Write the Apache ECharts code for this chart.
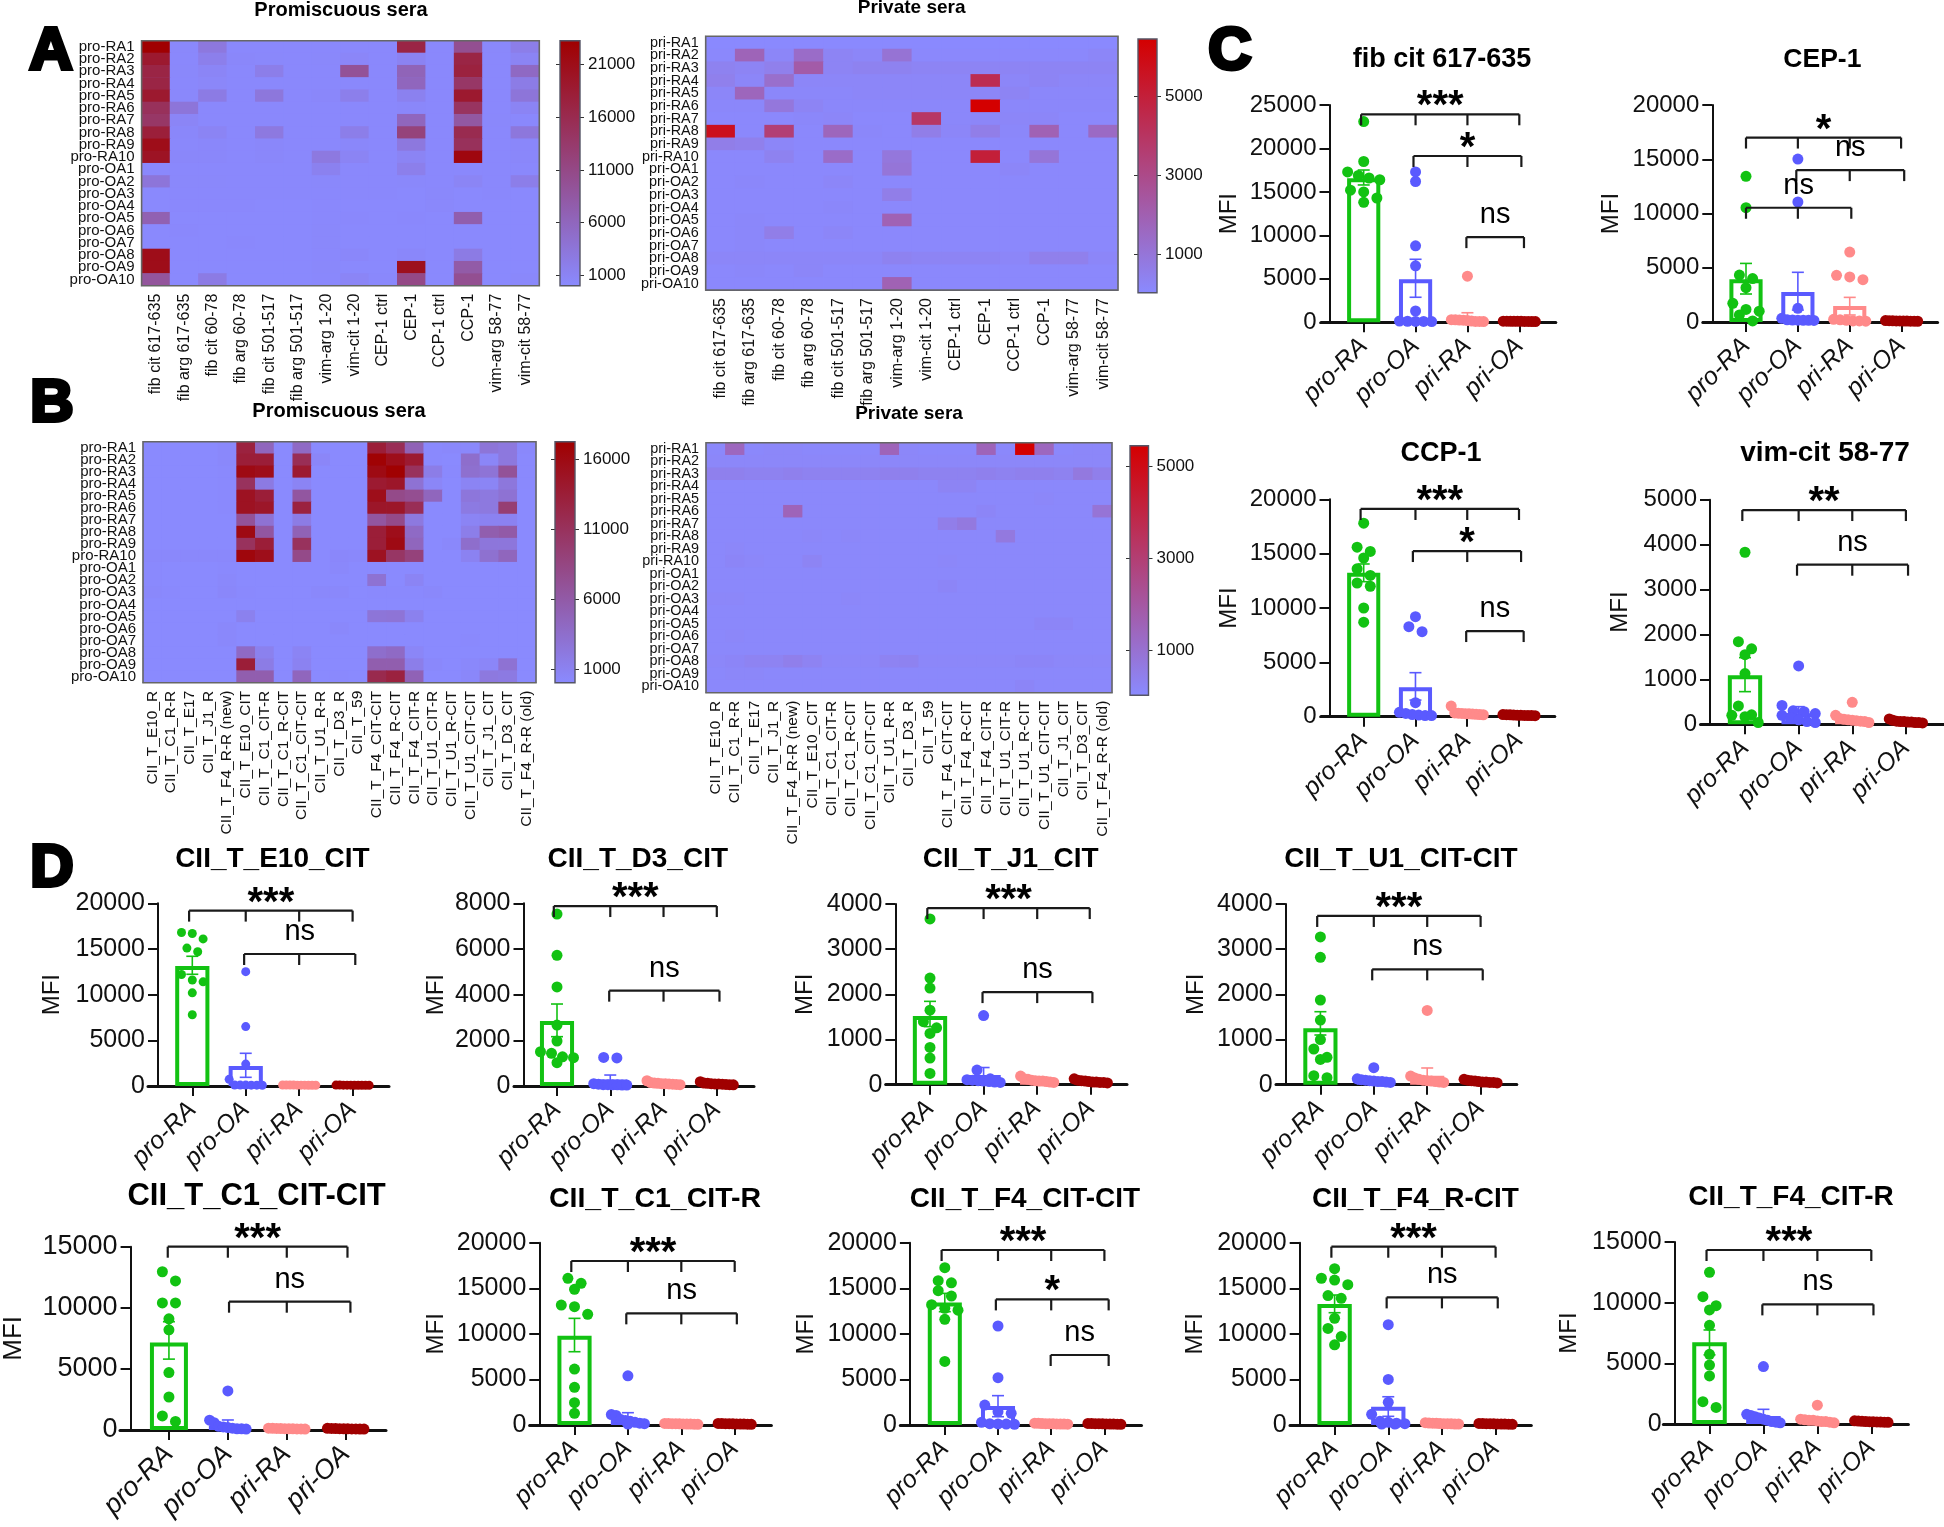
<!DOCTYPE html>
<html><head><meta charset="utf-8">
<style>html,body{margin:0;padding:0;background:#fff}#c{width:1944px;height:1527px}</style>
<script src="https://cdn.jsdelivr.net/npm/echarts@6/dist/echarts.min.js"></script>
</head><body><div id="c"></div>
<script>
// ---------- categories ----------
const proRows = ['pro-RA1','pro-RA2','pro-RA3','pro-RA4','pro-RA5','pro-RA6','pro-RA7','pro-RA8','pro-RA9','pro-RA10','pro-OA1','pro-OA2','pro-OA3','pro-OA4','pro-OA5','pro-OA6','pro-OA7','pro-OA8','pro-OA9','pro-OA10'];
const priRows = ['pri-RA1','pri-RA2','pri-RA3','pri-RA4','pri-RA5','pri-RA6','pri-RA7','pri-RA8','pri-RA9','pri-RA10','pri-OA1','pri-OA2','pri-OA3','pri-OA4','pri-OA5','pri-OA6','pri-OA7','pri-OA8','pri-OA9','pri-OA10'];
const peptideCols = ['fib cit 617-635','fib arg 617-635','fib cit 60-78','fib arg 60-78','fib cit 501-517','fib arg 501-517','vim-arg 1-20','vim-cit 1-20','CEP-1 ctrl','CEP-1','CCP-1 ctrl','CCP-1','vim-arg 58-77','vim-cit 58-77'];
const ciiCols = ['CII_T_E10_R','CII_T_C1_R-R','CII_T_E17','CII_T_J1_R','CII_T_F4_R-R (new)','CII_T_E10_CIT','CII_T_C1_CIT-R','CII_T_C1_R-CIT','CII_T_C1_CIT-CIT','CII_T_U1_R-R','CII_T_D3_R','CII_T_59','CII_T_F4_CIT-CIT','CII_T_F4_R-CIT','CII_T_F4_CIT-R','CII_T_U1_CIT-R','CII_T_U1_R-CIT','CII_T_U1_CIT-CIT','CII_T_J1_CIT','CII_T_D3_CIT','CII_T_F4_R-R (old)'];
const groups = ['pro-RA','pro-OA','pri-RA','pri-OA'];

// ---------- heatmap values ----------
const heatA1 = [
[23200,400,3000,300,300,300,300,300,300,17000,300,10000,400,2000],
[19000,300,1800,500,400,300,400,700,300,1200,300,17000,300,1000],
[17000,400,800,300,2000,300,300,9500,300,6500,300,17500,300,5500],
[17000,300,600,300,300,300,300,300,300,6000,300,14000,300,2300],
[19000,400,2500,300,3200,300,500,1800,300,1500,300,19000,300,3500],
[15000,3500,300,300,300,300,300,300,300,500,300,14500,300,1000],
[14000,800,300,300,300,300,300,300,300,6000,300,8500,400,300],
[18000,500,1000,300,2800,300,300,2000,300,12000,300,16000,300,3200],
[21000,400,500,300,500,300,300,500,300,3000,300,15000,300,500],
[20000,500,500,300,500,300,2800,1000,300,1000,300,22000,300,500],
[300,300,300,300,300,300,1500,300,300,1800,300,300,300,300],
[3500,400,400,300,300,300,400,300,300,400,300,900,300,2000],
[200,300,300,300,300,300,300,300,300,200,400,200,300,200],
[200,300,300,300,200,200,300,200,200,200,400,200,200,200],
[7000,200,200,200,200,200,300,300,200,300,200,7500,200,200],
[200,300,200,200,200,200,400,200,200,200,200,200,200,200],
[200,200,200,300,200,200,400,200,200,200,200,200,200,200],
[21000,200,200,200,200,200,300,500,200,500,200,2500,200,200],
[21000,200,200,200,200,200,400,200,200,20500,200,8000,200,200],
[9000,200,2500,200,200,200,300,800,300,11000,200,10000,200,400]
];
const heatA2 = [
[50,50,50,50,50,50,50,50,50,50,50,50,50,50],
[100,1800,200,1400,300,200,1100,100,100,100,100,100,100,200],
[400,300,500,2200,300,400,400,300,300,300,300,300,300,300],
[500,200,1300,200,200,200,200,200,200,4400,200,300,200,200],
[200,1700,150,150,150,200,200,200,200,200,300,150,150,150],
[150,150,900,300,150,150,150,150,150,6440,150,150,150,150],
[100,100,100,150,200,100,100,3900,150,200,200,200,100,100],
[5700,100,3500,100,1700,150,100,600,200,600,150,1900,100,1500],
[600,500,200,100,100,100,100,100,100,100,100,100,100,100],
[100,100,400,100,1400,100,900,100,100,5000,100,1000,100,100],
[100,100,100,100,100,100,1000,100,100,100,200,100,100,100],
[100,150,100,100,200,100,100,100,100,100,100,100,100,100],
[100,100,100,100,100,100,600,100,100,100,100,100,100,100],
[100,100,100,100,150,100,100,100,100,100,100,100,100,100],
[100,150,100,100,100,100,1900,100,100,100,100,100,100,100],
[100,150,600,100,200,100,100,100,100,100,100,100,100,100],
[100,150,100,100,100,100,100,100,100,100,100,100,100,100],
[200,200,200,200,200,200,400,300,300,300,200,500,500,200],
[100,150,100,200,100,100,100,100,100,100,100,100,100,100],
[100,100,100,100,100,100,1900,100,100,100,100,100,100,100]
];
const heatB1 = [
[100,100,100,100,300,13000,4500,100,4000,100,100,100,13500,11500,5000,200,300,300,2700,2300,300],
[100,100,100,100,300,13500,13500,100,11500,500,100,100,17000,15500,14000,200,100,3500,600,2300,200],
[100,100,100,100,200,16000,15500,100,14000,100,100,100,16000,17200,11000,1700,200,3300,2800,7000,200],
[100,100,100,100,200,11000,2000,100,800,100,100,100,14000,14500,3000,600,100,800,700,2400,200],
[100,100,100,100,200,15000,13500,100,6500,100,100,100,15500,8000,7500,4500,100,2500,2200,3000,100],
[100,100,100,100,200,15000,14500,100,13000,100,100,100,14500,14500,11500,100,100,2000,2200,9500,100],
[100,100,100,100,100,7000,3000,100,1800,100,100,100,6500,8000,2200,100,100,800,1000,1000,100],
[100,100,100,100,100,16000,6500,100,5000,100,100,100,13500,15500,4000,100,100,1500,5500,6000,100],
[100,100,100,100,100,11000,13500,100,11000,100,100,100,13500,16000,4500,100,300,3500,2500,2500,100],
[300,300,300,300,300,16500,15500,100,8000,100,400,300,15000,10500,9000,100,100,1000,3200,4500,100],
[200,100,100,100,200,100,100,100,100,100,300,100,100,100,100,100,100,100,100,100,100],
[200,100,100,100,300,100,100,100,100,100,100,100,3000,100,800,100,100,100,100,100,100],
[300,200,100,100,400,200,100,100,100,300,300,100,200,200,200,300,100,100,100,100,100],
[100,100,100,100,100,100,100,100,100,100,100,100,100,100,100,100,100,100,100,100,100],
[100,100,100,100,100,1200,100,100,100,100,100,100,2700,2800,1200,100,100,100,100,100,100],
[100,100,100,100,300,100,100,100,100,100,300,100,100,100,100,100,100,100,100,100,100],
[100,100,100,100,300,100,100,100,100,100,100,100,100,100,100,100,100,200,100,100,100],
[100,100,100,100,100,4000,1200,100,800,100,100,100,3500,4000,600,100,100,100,100,100,100],
[100,100,100,100,100,13500,1800,100,1000,100,100,100,5500,5500,1500,300,100,300,500,3000,100],
[100,100,100,100,100,5500,5500,100,4500,100,200,100,12000,13000,5000,100,100,400,2200,2000,100]
];
const heatB2 = [
[100,1400,100,150,150,100,100,100,100,1500,150,100,100,100,1500,100,5440,1400,100,150,150],
[150,150,150,150,150,150,150,150,150,150,150,150,150,150,150,150,150,150,150,150,150],
[400,400,350,350,400,350,350,350,350,400,400,350,350,350,400,350,400,400,350,700,450],
[100,100,100,100,100,100,100,100,100,100,100,100,250,250,100,100,100,100,100,100,100],
[100,100,100,100,100,100,100,100,100,100,100,100,100,100,100,100,100,150,100,100,100],
[100,100,100,100,1500,100,100,100,100,100,100,100,100,100,200,100,100,100,100,100,900],
[100,100,100,100,100,100,100,100,100,100,100,100,500,700,100,100,100,100,100,100,100],
[100,100,100,100,100,150,100,150,100,100,100,100,100,100,100,700,100,100,100,100,100],
[100,150,100,100,100,100,100,100,100,100,100,100,100,100,100,100,100,100,100,100,100],
[100,200,150,100,100,250,100,100,100,100,100,100,150,100,100,100,100,100,100,100,100],
[100,100,100,100,100,100,100,100,100,100,100,100,100,100,100,100,100,100,100,100,100],
[100,100,100,100,100,100,100,100,100,100,100,100,200,100,100,100,100,100,100,100,100],
[150,150,100,100,100,100,100,150,100,100,100,100,100,100,100,100,100,100,100,100,100],
[100,100,100,100,100,100,100,100,100,100,100,100,100,100,100,100,100,100,100,100,100],
[100,100,100,100,100,100,100,100,100,100,100,100,100,100,100,100,100,200,200,100,100],
[100,150,100,100,100,100,100,100,100,100,100,100,100,100,100,100,100,100,100,100,100],
[100,100,100,100,100,100,100,100,100,100,100,100,100,100,100,100,100,100,100,100,100],
[150,200,300,300,450,300,150,150,150,300,350,150,150,150,150,150,200,200,150,150,150],
[100,150,150,100,100,100,100,100,100,100,100,100,100,100,100,100,100,100,100,100,100],
[100,100,100,100,100,100,100,100,100,100,100,100,100,100,100,100,200,100,100,100,100]
];

// ---------- bar + dot values (one list per group: pro-RA, pro-OA, pri-RA, pri-OA) ----------
const fibDots = [[23100,18500,17300,16900,16600,16400,15200,15000,14300,13800],[17300,16200,8800,6500,1300,150,120,100,100,80],[5300,300,280,260,250,200,150,100,100,80],[130,130,120,120,110,110,100,100,90,90]];
const fibBars = [16560,4950,460,150]; const fibErr = [[17520,15800],[7250,2880],[1100,100],null];
const cepDots = [[13430,10540,4330,4000,3160,1720,1160,1000,650,100],[15020,11060,1260,340,200,180,170,160,150,140],[6450,4300,4150,3900,250,200,150,100,100,80],[130,120,110,100,100,90,90,80,80,70]];
const cepBars = [3930,2765,1475,120]; const cepErr = [[5400,2580],[4580,1100],[2270,645],null];
const ccpDots = [[17800,15600,15200,14600,13600,13000,12300,12000,10000,8700],[9200,8280,7820,1290,400,300,200,150,100,100],[980,350,320,300,280,260,240,220,200,180],[200,190,170,150,140,130,120,110,100,90]];
const ccpBars = [13250,2700,400,150]; const ccpErr = [[14050,12420],[4050,1530],null,null];
const vimDots = [[3830,1840,1680,1550,1130,410,210,200,170,40],[1300,420,300,280,240,200,150,100,60,40],[490,200,130,110,100,90,80,70,60,40],[120,90,70,60,60,50,50,40,40,30]];
const vimBars = [1090,245,100,60]; const vimErr = [[1484,727],[393,100],null,null];
const e10Dots = [[16800,16700,16100,15100,14700,12200,11600,11400,10200,7800],[12520,6500,2400,730,110,100,100,90,90,80],[110,100,100,100,90,90,90,80,80,80],[100,100,90,90,90,80,80,80,70,70]];
const e10Bars = [13140,2190,100,80]; const e10Err = [[14200,12230],[3580,950],null,null];
const d3Dots = [[7530,5720,4340,2670,1970,1500,1430,1280,1240,1020],[1250,1230,100,80,60,60,50,50,40,40],[230,150,130,120,100,100,90,80,70,60],[190,130,120,100,90,90,80,70,60,50]];
const d3Bars = [2850,290,100,80]; const d3Err = [[3590,2160],[480,100],null,null];
const j1Dots = [[3670,2360,2140,1650,1395,1260,1136,826,590,250],[1530,325,130,110,100,90,80,70,60,50],[190,130,120,100,90,80,80,70,60,50],[130,100,90,80,70,60,60,50,50,40]];
const j1Bars = [1520,214,125,90]; const j1Err = [[1845,1285],[380,50],null,null];
const u1Dots = [[3270,2820,1875,1430,1000,790,605,560,200,155],[376,130,110,100,90,80,70,70,60,50],[1645,190,150,120,100,90,80,70,60,50],[120,100,90,80,70,60,60,50,50,40]];
const u1Bars = [1247,100,200,90]; const u1Err = [[1616,1100],null,[370,40],null];
const c1ccDots = [[12950,12200,10400,10400,9100,8200,4700,2700,1150,700],[3200,800,600,300,250,200,150,100,100,80],[150,140,130,120,110,100,100,90,90,80],[140,130,120,110,100,100,90,90,80,80]];
const c1ccBars = [7170,330,130,100]; const c1ccErr = [[8860,5800],[820,50],null,null];
const c1crDots = [[16090,15540,14880,13160,12980,12140,6140,4130,2450,1280],[5400,1150,1050,600,500,400,300,200,150,100],[170,160,150,140,130,120,110,100,90,80],[170,160,150,140,130,120,110,100,90,80]];
const c1crBars = [9800,695,150,150]; const c1crErr = [[11700,8040],[1350,50],null,null];
const f4ccDots = [[17260,15830,15600,14740,14150,13200,12800,12600,11590,6980],[10860,5190,2190,1460,1280,300,150,120,100,80],[200,180,160,150,140,130,120,110,100,90],[170,160,150,140,130,120,110,100,90,80]];
const f4ccBars = [13450,2085,120,100]; const f4ccErr = [[14440,12430],[3220,910],null,null];
const f4rcDots = [[17150,16100,15900,15400,14200,13900,11700,10600,9700,8800],[11000,5000,2490,1170,400,300,200,150,100,100],[260,220,200,180,160,150,140,130,110,100],[170,160,150,140,130,120,110,100,90,80]];
const f4rcBars = [13270,2010,150,120]; const f4rcErr = [[14260,12320],[3100,950],null,null];
const f4crDots = [[12500,10490,9750,9400,8130,5740,4860,3960,1840,1370],[4730,800,700,600,500,400,300,200,150,100],[1550,400,350,300,300,250,200,200,150,100],[260,240,220,200,190,180,170,160,150,140]];
const f4crBars = [6730,660,470,190]; const f4crErr = [[7750,5700],[1210,110],null,null];

// ---------- significance brackets: from, to, level (axis units), text ----------
const fibBrackets = [[0.95,4,23930,'***'],[1.96,4.04,19130,'*'],[2.98,4.09,9800,'ns']];
const cepBrackets = [[1,3.99,17000,'*'],[1.97,4.05,14000,'ns'],[1,3.03,10530,'ns']];
const ccpBrackets = [[0.94,4,19110,'***'],[1.95,4.04,15240,'*'],[2.98,4.09,7880,'ns']];
const vimBrackets = [[0.95,4,4770,'**'],[1.97,4.04,3553,'ns']];
const e10Brackets = [[0.94,4,19200,'***'],[1.97,4.05,14450,'ns']];
const d3Brackets = [[0.94,4,7880,'***'],[1.98,4.05,4175,'ns']];
const j1Brackets = [[0.95,3.98,3910,'***'],[1.98,4.03,2050,'ns']];
const u1Brackets = [[0.94,4,3735,'***'],[1.97,4.04,2553,'ns']];
const c1ccBrackets = [[0.98,4.03,15000,'***'],[2.02,4.08,10500,'ns']];
const c1crBrackets = [[0.94,4,17990,'***'],[1.97,4.04,12250,'ns']];
const f4ccBrackets = [[0.94,4,19200,'***'],[1.96,4.08,13780,'*'],[2.99,4.08,7680,'ns']];
const f4rcBrackets = [[0.94,4,19560,'***'],[1.97,4.04,14000,'ns']];
const f4crBrackets = [[0.945,4,14340,'***'],[1.98,4.04,9860,'ns']];

// ---------- layout + styles ----------
const FONT = '"Liberation Sans", Arial, sans-serif';
const groupColors = ['#12c212','#5a5aff','#ff8a8a','#a00000'];
const LOW = '#8a8aff';
const opt = {animation:false,backgroundColor:'#fff',title:[],grid:[],xAxis:[],yAxis:[],series:[],visualMap:[],graphic:[]};

function text(t,x,y,size,extra){
  opt.title.push({text:t,left:x,top:y,textAlign:'center',textVerticalAlign:'middle',padding:0,
    textStyle:Object.assign({fontFamily:FONT,fontWeight:'bold',fontSize:size,color:'#000'},extra||{})});
}
[['A',51,52],['B',52,404],['C',1230,52],['D',52,869]].forEach(a=>text(a[0],a[1],a[2],60,{textBorderColor:'#000',textBorderWidth:4}));

function addAxesGrid(box,bg){
  const g=opt.grid.length;
  const o={left:box.x0,top:box.y0,width:box.x1-box.x0,height:box.y1-box.y0,containLabel:false};
  if(bg){o.show=true;o.backgroundColor=bg;o.borderWidth=0;}
  opt.grid.push(o);
  return g;
}

function heat(h){
  const g=addAxesGrid(h,LOW);
  const xi=opt.xAxis.length, yi=opt.yAxis.length;
  opt.xAxis.push({gridIndex:g,type:'category',data:h.cols,
    axisTick:{alignWithLabel:true,length:5,lineStyle:{color:'#555'}},axisLine:{lineStyle:{color:'#555'}},splitLine:{show:false},splitArea:{show:false},
    axisLabel:{interval:0,rotate:90,fontFamily:FONT,fontSize:h.colFont,color:'#111',margin:8}});
  opt.yAxis.push({gridIndex:g,type:'category',inverse:true,data:h.rows,
    axisTick:{alignWithLabel:true,length:5,lineStyle:{color:'#555'}},axisLine:{lineStyle:{color:'#555'}},splitLine:{show:false},splitArea:{show:false},
    axisLabel:{interval:0,fontFamily:FONT,fontSize:h.rowFont,color:'#111',margin:7}});
  const data=[];
  h.matrix.forEach((row,r)=>row.forEach((v,c)=>data.push([c,r,v])));
  const si=opt.series.length;
  opt.series.push({type:'heatmap',xAxisIndex:xi,yAxisIndex:yi,data,progressive:0,silent:true});
  opt.visualMap.push({show:false,seriesIndex:si,dimension:2,min:h.cb.min,max:h.cb.max,inRange:{color:[LOW,h.high]}});
  opt.graphic.push({type:'rect',z:50,silent:true,shape:{x:h.x0,y:h.y0,width:h.x1-h.x0,height:h.y1-h.y0},style:{fill:null,stroke:'#666',lineWidth:1.6}});
  text(h.title,h.titleX,h.titleY,h.titleSize);
  // colour bar
  const cb=h.cb, cg=addAxesGrid(cb);
  const cx=opt.xAxis.length, cy=opt.yAxis.length;
  opt.xAxis.push({gridIndex:cg,type:'category',data:['scale'],show:false});
  const tickCol='#333';
  opt.yAxis.push({gridIndex:cg,type:'value',position:'right',min:cb.min,max:cb.max,splitLine:{show:false},
    axisLine:{show:false},axisTick:{show:true,length:4,lineStyle:{color:tickCol},customValues:cb.ticks},
    axisLabel:{show:true,customValues:cb.ticks,fontFamily:FONT,fontSize:17,color:'#111',margin:8,formatter:v=>String(v)}});
  opt.yAxis.push({gridIndex:cg,type:'value',position:'left',min:cb.min,max:cb.max,splitLine:{show:false},
    axisLine:{show:false},axisTick:{show:true,length:4,lineStyle:{color:tickCol},customValues:cb.ticks},axisLabel:{show:false}});
  opt.series.push({type:'bar',xAxisIndex:cx,yAxisIndex:cy,barWidth:'100%',silent:true,data:[cb.max],
    itemStyle:{color:new echarts.graphic.LinearGradient(0,0,0,1,[{offset:0,color:h.high},{offset:1,color:LOW}])}});
  opt.graphic.push({type:'rect',z:50,silent:true,shape:{x:cb.x0,y:cb.y0,width:cb.x1-cb.x0,height:cb.y1-cb.y0},style:{fill:null,stroke:'#556',lineWidth:1.4}});
}

function swarm(values,pxPerUnit,step,dot){
  const sorted=values.slice().sort((a,b)=>b-a), out=[];
  const maxHalf=0.31*step;
  let i=0;
  while(i<sorted.length){
    let j=i; 
    while(j+1<sorted.length && (sorted[i]-sorted[j+1])*pxPerUnit<dot*0.85) j++;
    const k=j-i+1, sp=k>1?Math.min(dot*1.2,2*maxHalf/(k-1)):0;
    for(let q=0;q<k;q++) out.push([(q-(k-1)/2)*sp/step,sorted[i+q]]);
    i=j+1;
  }
  return out;
}

function panel(p){
  const step=(p.cat4-p.cat1)/3;
  const box={x0:p.xLeft,x1:p.xRight,y0:p.yTop,y1:p.yZero};
  const g=addAxesGrid(box);
  const xi=opt.xAxis.length, yi=opt.yAxis.length;
  const tf=p.tickFont||24, pxU=(p.yZero-p.yTop)/p.max;
  opt.xAxis.push({gridIndex:g,type:'value',position:'bottom',
    min:1-(p.cat1-p.xLeft)/step,max:4+(p.xRight-p.cat4)/step,splitLine:{show:false},
    axisLine:{onZero:false,lineStyle:{color:'#111',width:3}},
    axisTick:{show:true,length:10,lineStyle:{color:'#111',width:2},customValues:[1,2,3,4]},
    axisLabel:{show:true,customValues:[1,2,3,4],rotate:45,fontFamily:FONT,fontStyle:'italic',fontSize:p.catFont||25,color:'#111',margin:20,
      formatter:v=>groups[Math.round(v)-1]||''}});
  opt.yAxis.push({gridIndex:g,type:'value',min:0,max:p.max,interval:p.interval,offset:-(p.axisX-p.xLeft),splitLine:{show:false},
    axisLine:{show:true,onZero:false,lineStyle:{color:'#111',width:2}},
    axisTick:{show:true,length:10,lineStyle:{color:'#111',width:2}},
    axisLabel:{fontFamily:FONT,fontSize:tf,color:'#111',margin:13,formatter:v=>String(v)},
    name:'MFI',nameLocation:'middle',nameGap:p.axisX-p.mfiX-12,
    nameTextStyle:{fontFamily:FONT,fontSize:p.mfiFont||24,color:'#111'}});
  const bw=step*0.64;
  opt.series.push({type:'bar',xAxisIndex:xi,yAxisIndex:yi,barWidth:bw,silent:true,
    data:p.bars.map((v,i)=>({value:[i+1,v],itemStyle:{color:'rgba(0,0,0,0)',borderColor:groupColors[i],borderWidth:4}}))});
  opt.series.push({type:'custom',xAxisIndex:xi,yAxisIndex:yi,silent:true,clip:false,z:3,
    data:p.err.map((e,i)=>[i+1,e?e[0]:0,e?e[1]:0]),
    renderItem:(params,api)=>{
      const i=params.dataIndex, e=p.err[i]; if(!e) return null;
      const hi=api.coord([i+1,e[0]]), lo=api.coord([i+1,e[1]]);
      const st={stroke:groupColors[i],lineWidth:1.6};
      return {type:'group',children:[
        {type:'line',shape:{x1:hi[0],y1:hi[1],x2:lo[0],y2:lo[1]},style:st},
        {type:'line',shape:{x1:hi[0]-6,y1:hi[1],x2:hi[0]+6,y2:hi[1]},style:st},
        {type:'line',shape:{x1:lo[0]-6,y1:lo[1],x2:lo[0]+6,y2:lo[1]},style:st}]};
    }});
  p.dots.forEach((vals,i)=>{
    opt.series.push({type:'scatter',xAxisIndex:xi,yAxisIndex:yi,silent:true,clip:false,z:4,symbolSize:p.dot||11,
      itemStyle:{color:groupColors[i],opacity:1},
      data:swarm(vals,pxU,step,p.dot||11).map(d=>[i+1+d[0],d[1]])});
  });
  opt.series.push({type:'custom',xAxisIndex:xi,yAxisIndex:yi,silent:true,clip:false,z:5,
    data:p.brackets.map(b=>[b[0],b[2]]),
    renderItem:(params,api)=>{
      const b=p.brackets[params.dataIndex];
      const l=api.coord([b[0],b[2]]), r=api.coord([b[1],b[2]]);
      const drops=[b[0]];
      for(let c=2;c<=3;c++) if(c>b[0]+0.5 && c<b[1]-0.5) drops.push(c);
      drops.push(b[1]);
      const st={stroke:'#1a1a1a',lineWidth:2.2};
      const kids=[{type:'line',shape:{x1:l[0],y1:l[1],x2:r[0],y2:r[1]},style:st}];
      drops.forEach(d=>{const q=api.coord([d,b[2]]);kids.push({type:'line',shape:{x1:q[0],y1:q[1],x2:q[0],y2:q[1]+11},style:st});});
      const star=b[3]!=='ns';
      kids.push({type:'text',style:{text:b[3],x:(l[0]+r[0])/2,y:l[1]-(star?7:22),align:'center',verticalAlign:'middle',
        fontFamily:FONT,fontWeight:star?'bold':'normal',fontSize:star?40:29,fill:'#000'}});
      return {type:'group',children:kids};
    }});
  text(p.title,p.titleX,p.titleY+2.5,p.titleSize);
}

// ---------- heatmaps ----------
heat({title:'Promiscuous sera',titleX:341,titleY:10,titleSize:20,rows:proRows,cols:peptideCols,matrix:heatA1,high:'#a00000',x0:141.6,x1:539.3,y0:40.7,y1:285.7,rowFont:15,colFont:16,
  cb:{x0:560,x1:580,y0:40.7,y1:285.7,min:19,max:23250,ticks:[1000,6000,11000,16000,21000]}});
heat({title:'Private sera',titleX:911.6,titleY:8,titleSize:19,rows:priRows,cols:peptideCols,matrix:heatA2,high:'#d40000',x0:705.7,x1:1118,y0:36.3,y1:290,rowFont:14.4,colFont:16,
  cb:{x0:1138,x1:1157,y0:39,y1:292.7,min:21,max:6443,ticks:[1000,3000,5000]}});
heat({title:'Promiscuous sera',titleX:339,titleY:411.7,titleSize:20,rows:proRows,cols:ciiCols,matrix:heatB1,high:'#a00000',x0:143,x1:536,y0:441.7,y1:682.7,rowFont:15,colFont:15.5,
  cb:{x0:555,x1:575,y0:441.7,y1:682.7,min:46,max:17288,ticks:[1000,6000,11000,16000]}});
heat({title:'Private sera',titleX:909,titleY:414,titleSize:19,rows:priRows,cols:ciiCols,matrix:heatB2,high:'#d40000',x0:706,x1:1112,y0:442.7,y1:692.7,rowFont:14.4,colFont:15.5,
  cb:{x0:1130,x1:1148.5,y0:445.7,y1:695.3,min:23,max:5441,ticks:[1000,3000,5000]}});

// ---------- bar panels ----------
[
{title:'fib cit 617-635',titleX:1442,titleY:57,titleSize:27,axisX:1329.5,xLeft:1321,xRight:1555.8,yTop:105,yZero:322.3,max:25000,interval:5000,cat1:1363.7,cat4:1519.3,mfiX:1229,bars:fibBars,err:fibErr,dots:fibDots,brackets:fibBrackets},
{title:'CEP-1',titleX:1822.4,titleY:57,titleSize:26.5,axisX:1712.3,xLeft:1702.8,xRight:1937.6,yTop:105,yZero:322,max:20000,interval:5000,cat1:1746,cat4:1901.6,mfiX:1611,bars:cepBars,err:cepErr,dots:cepDots,brackets:cepBrackets},
{title:'CCP-1',titleX:1441,titleY:451,titleSize:27,axisX:1329.5,xLeft:1321,xRight:1554.8,yTop:499.3,yZero:716.7,max:20000,interval:5000,cat1:1363.7,cat4:1519,mfiX:1229,bars:ccpBars,err:ccpErr,dots:ccpDots,brackets:ccpBrackets},
{title:'vim-cit 58-77',titleX:1825,titleY:451,titleSize:28,axisX:1710,xLeft:1700.5,xRight:1943.8,yTop:499.7,yZero:724.3,max:5000,interval:1000,cat1:1745,cat4:1905.9,mfiX:1620,bars:vimBars,err:vimErr,dots:vimDots,brackets:vimBrackets},
{title:'CII_T_E10_CIT',titleX:272.4,titleY:857,titleSize:28,axisX:158,xLeft:148,xRight:389,yTop:903.3,yZero:1086,max:20000,interval:5000,cat1:192.3,cat4:352.6,mfiX:52,tickFont:25,dot:9,bars:e10Bars,err:e10Err,dots:e10Dots,brackets:e10Brackets},
{title:'CII_T_D3_CIT',titleX:637.8,titleY:857,titleSize:28,axisX:523.5,xLeft:514,xRight:754,yTop:903.3,yZero:1086,max:8000,interval:2000,cat1:557,cat4:716.8,mfiX:436,tickFont:25,bars:d3Bars,err:d3Err,dots:d3Dots,brackets:d3Brackets},
{title:'CII_T_J1_CIT',titleX:1010.7,titleY:857,titleSize:28,axisX:895.4,xLeft:885.7,xRight:1127,yTop:904,yZero:1084.7,max:4000,interval:1000,cat1:930,cat4:1090.8,mfiX:805,tickFont:25,bars:j1Bars,err:j1Err,dots:j1Dots,brackets:j1Brackets},
{title:'CII_T_U1_CIT-CIT',titleX:1401,titleY:857,titleSize:28,axisX:1285.7,xLeft:1276,xRight:1516.8,yTop:904,yZero:1084.7,max:4000,interval:1000,cat1:1320.4,cat4:1480.6,mfiX:1196,tickFont:25,bars:u1Bars,err:u1Err,dots:u1Dots,brackets:u1Brackets},
{title:'CII_T_C1_CIT-CIT',titleX:256.6,titleY:1194,titleSize:31,axisX:128.6,xLeft:118,xRight:386,yTop:1246.7,yZero:1430,max:15000,interval:5000,cat1:167.3,cat4:345.4,mfiX:13,tickFont:27,mfiFont:26,catFont:27,bars:c1ccBars,err:c1ccErr,dots:c1ccDots,brackets:c1ccBrackets},
{title:'CII_T_C1_CIT-R',titleX:655,titleY:1197,titleSize:28.5,axisX:539.3,xLeft:529.6,xRight:771.4,yTop:1242.7,yZero:1425,max:20000,interval:5000,cat1:574.5,cat4:734.7,mfiX:436,tickFont:25,bars:c1crBars,err:c1crErr,dots:c1crDots,brackets:c1crBrackets},
{title:'CII_T_F4_CIT-CIT',titleX:1025,titleY:1197,titleSize:28,axisX:909.9,xLeft:900.3,xRight:1141.5,yTop:1242.7,yZero:1425,max:20000,interval:5000,cat1:944.8,cat4:1104.4,mfiX:806,tickFont:25,bars:f4ccBars,err:f4ccErr,dots:f4ccDots,brackets:f4ccBrackets},
{title:'CII_T_F4_R-CIT',titleX:1415.5,titleY:1197,titleSize:28,axisX:1299.7,xLeft:1290,xRight:1531.3,yTop:1242.7,yZero:1425,max:20000,interval:5000,cat1:1334.6,cat4:1495.6,mfiX:1195.5,tickFont:25,bars:f4rcBars,err:f4rcErr,dots:f4rcDots,brackets:f4rcBrackets},
{title:'CII_T_F4_CIT-R',titleX:1791,titleY:1195,titleSize:28,axisX:1674.6,xLeft:1663.4,xRight:1908.4,yTop:1242,yZero:1424,max:15000,interval:5000,cat1:1709.5,cat4:1871.3,mfiX:1569,tickFont:25,bars:f4crBars,err:f4crErr,dots:f4crDots,brackets:f4crBrackets}
].forEach(panel);

const chart=echarts.init(document.getElementById('c'),null,{renderer:'canvas',width:1944,height:1527});
chart.setOption(opt);
</script></body></html>
